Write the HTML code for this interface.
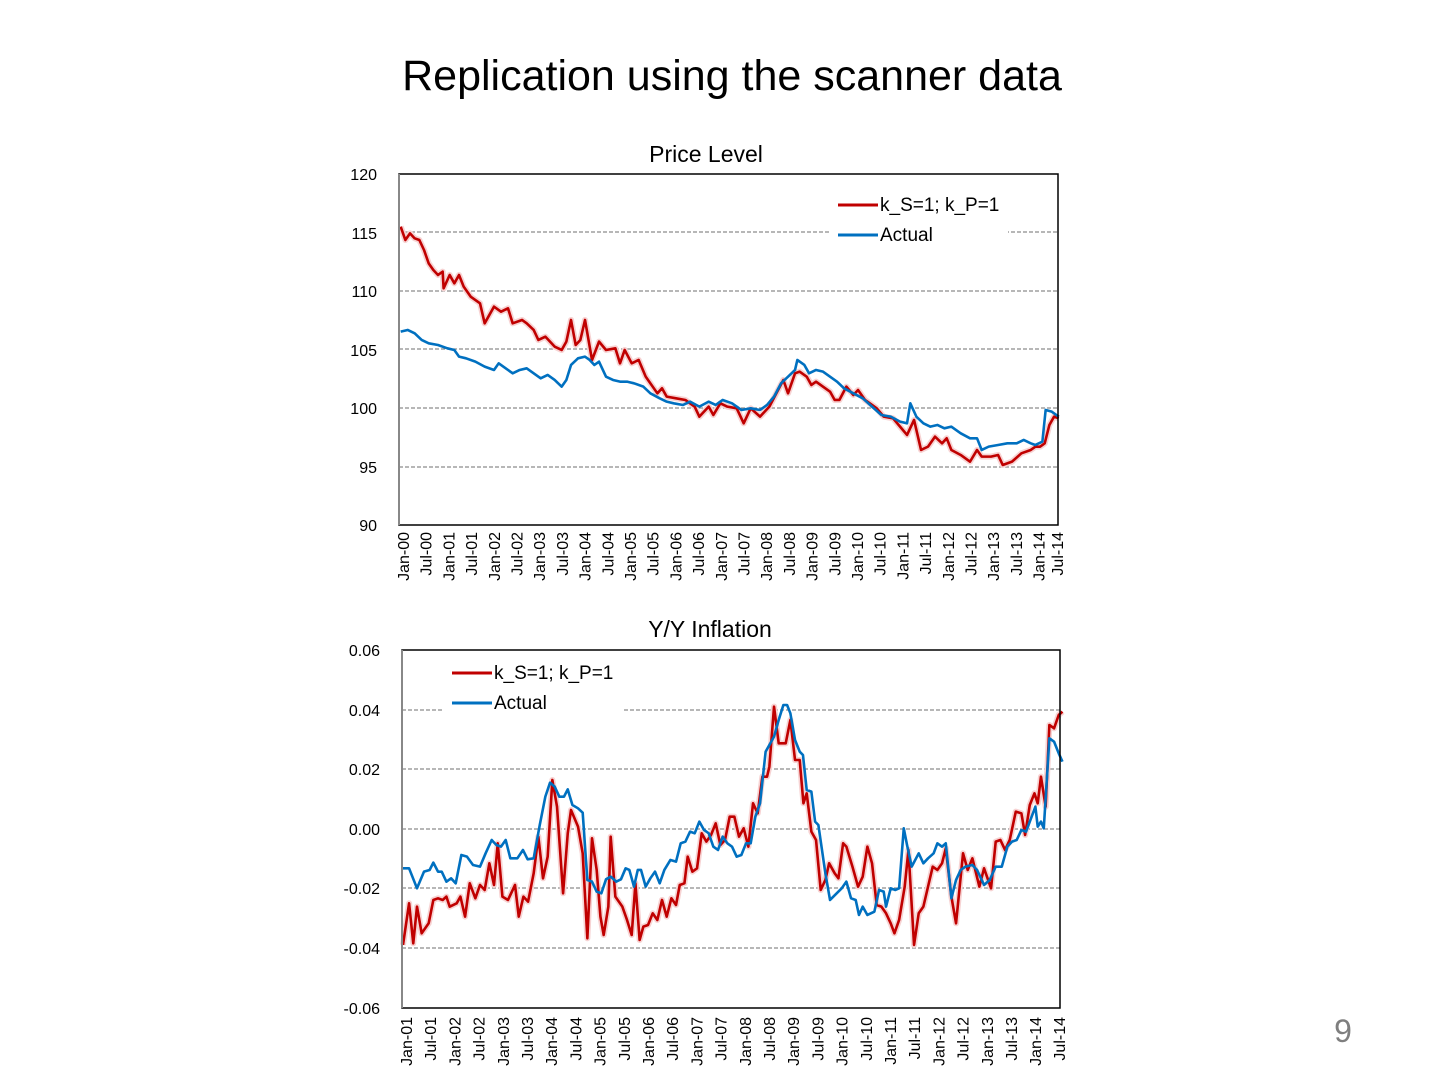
<!DOCTYPE html>
<html><head><meta charset="utf-8"><style>
html,body{margin:0;padding:0;background:#fff;}
svg{display:block;font-family:"Liberation Sans",sans-serif;}
</style></head><body>
<svg width="1440" height="1080" viewBox="0 0 1440 1080" xmlns="http://www.w3.org/2000/svg">
<text x="732" y="90" font-size="43" text-anchor="middle" fill="#000">Replication using the scanner data</text>
<text x="1343" y="1042" font-size="32" text-anchor="middle" fill="#7f7f7f">9</text>

<!-- TOP CHART -->
<text x="706" y="162" font-size="23" text-anchor="middle">Price Level</text>
<g stroke="#8c8c8c" stroke-width="1.2" stroke-dasharray="4,2">
<line x1="399" y1="232" x2="1058" y2="232"/><line x1="399" y1="291" x2="1058" y2="291"/>
<line x1="399" y1="349" x2="1058" y2="349"/><line x1="399" y1="408" x2="1058" y2="408"/>
<line x1="399" y1="467" x2="1058" y2="467"/>
</g>
<rect x="830" y="190" width="178" height="60" fill="#fff"/>
<g font-size="16" text-anchor="end">
<text x="377" y="180">120</text><text x="377" y="239">115</text><text x="377" y="297">110</text>
<text x="377" y="356">105</text><text x="377" y="414">100</text><text x="377" y="473">95</text><text x="377" y="531">90</text>
</g>
<g transform="translate(340,160) scale(0.4667,0.3333)" fill="none" stroke-linejoin="round">
<polyline vector-effect="non-scaling-stroke" stroke="#f7d3d3" stroke-width="6" points="130,200 140,240 150,220 160,235 170,240 180,270 190,310 200,330 210,345 220,335 222,385 235,345 245,370 255,345 265,380 280,410 300,430 310,490 330,440 345,455 360,445 370,490 390,480 400,490 415,510 425,540 440,530 460,560 475,570 485,545 495,480 505,555 515,540 525,480 540,600 555,545 570,570 590,565 600,610 610,570 625,610 640,600 655,650 680,700 690,685 700,710 720,715 740,720 760,740 770,770 790,740 800,765 815,730 830,740 850,745 865,790 880,745 900,770 920,740 935,700 950,660 960,700 975,640 985,635 1000,650 1010,675 1020,665 1035,680 1050,695 1060,720 1070,720 1085,680 1100,705 1110,690 1125,720 1140,735 1150,745 1165,770 1185,775 1200,800 1215,825 1230,780 1245,870 1260,860 1275,830 1290,850 1300,835 1310,870 1330,885 1350,905 1365,870 1375,890 1395,890 1410,885 1420,915 1440,905 1460,880 1480,870 1490,860 1500,860 1510,850 1520,795 1530,770 1540,775"/>
<polyline vector-effect="non-scaling-stroke" stroke="#c00000" stroke-width="2.6" points="130,200 140,240 150,220 160,235 170,240 180,270 190,310 200,330 210,345 220,335 222,385 235,345 245,370 255,345 265,380 280,410 300,430 310,490 330,440 345,455 360,445 370,490 390,480 400,490 415,510 425,540 440,530 460,560 475,570 485,545 495,480 505,555 515,540 525,480 540,600 555,545 570,570 590,565 600,610 610,570 625,610 640,600 655,650 680,700 690,685 700,710 720,715 740,720 760,740 770,770 790,740 800,765 815,730 830,740 850,745 865,790 880,745 900,770 920,740 935,700 950,660 960,700 975,640 985,635 1000,650 1010,675 1020,665 1035,680 1050,695 1060,720 1070,720 1085,680 1100,705 1110,690 1125,720 1140,735 1150,745 1165,770 1185,775 1200,800 1215,825 1230,780 1245,870 1260,860 1275,830 1290,850 1300,835 1310,870 1330,885 1350,905 1365,870 1375,890 1395,890 1410,885 1420,915 1440,905 1460,880 1480,870 1490,860 1500,860 1510,850 1520,795 1530,770 1540,775"/>
<polyline vector-effect="non-scaling-stroke" stroke="#0070c0" stroke-width="2.6" points="130,515 145,510 160,520 175,540 190,550 210,555 230,565 245,570 255,590 270,595 290,605 310,620 330,630 340,610 355,625 370,640 385,630 400,625 415,640 430,655 445,645 460,660 475,680 485,660 495,615 510,595 525,590 535,600 545,615 555,605 570,650 585,660 600,665 615,665 630,670 650,680 665,700 685,715 700,725 715,730 735,735 750,725 770,740 790,725 805,735 820,720 840,730 860,750 880,745 900,750 915,735 930,710 945,670 960,650 975,630 980,600 995,615 1005,640 1020,630 1035,635 1050,650 1065,665 1080,685 1100,700 1120,715 1140,740 1160,765 1180,770 1200,785 1215,790 1222,730 1235,770 1250,790 1265,800 1280,795 1295,805 1310,800 1330,820 1350,835 1365,835 1375,870 1390,860 1410,855 1430,850 1450,850 1465,840 1480,850 1490,855 1505,845 1512,750 1525,755 1540,770"/>
</g>
<rect x="399" y="174" width="659" height="351" fill="none" stroke="#000" stroke-width="1.5"/>
<line x1="399" y1="174" x2="399" y2="525" stroke="#888" stroke-width="2"/>
<line x1="838" y1="205" x2="878" y2="205" stroke="#c00000" stroke-width="3"/>
<line x1="838" y1="235" x2="878" y2="235" stroke="#0070c0" stroke-width="3"/>
<text x="880" y="211" font-size="19">k_S=1; k_P=1</text>
<text x="880" y="241" font-size="19">Actual</text>
<g font-size="16" text-anchor="end">
<text transform="translate(409,532) rotate(-90)">Jan-00</text><text transform="translate(431.7,532) rotate(-90)">Jul-00</text><text transform="translate(454.4,532) rotate(-90)">Jan-01</text><text transform="translate(477.1,532) rotate(-90)">Jul-01</text><text transform="translate(499.8,532) rotate(-90)">Jan-02</text><text transform="translate(522.5,532) rotate(-90)">Jul-02</text><text transform="translate(545.2,532) rotate(-90)">Jan-03</text><text transform="translate(567.9,532) rotate(-90)">Jul-03</text><text transform="translate(590.6,532) rotate(-90)">Jan-04</text><text transform="translate(613.3,532) rotate(-90)">Jul-04</text><text transform="translate(636,532) rotate(-90)">Jan-05</text><text transform="translate(658.7,532) rotate(-90)">Jul-05</text><text transform="translate(681.4,532) rotate(-90)">Jan-06</text><text transform="translate(704.1,532) rotate(-90)">Jul-06</text><text transform="translate(726.8,532) rotate(-90)">Jan-07</text><text transform="translate(749.5,532) rotate(-90)">Jul-07</text><text transform="translate(772.2,532) rotate(-90)">Jan-08</text><text transform="translate(794.9,532) rotate(-90)">Jul-08</text><text transform="translate(817.6,532) rotate(-90)">Jan-09</text><text transform="translate(840.3,532) rotate(-90)">Jul-09</text><text transform="translate(863,532) rotate(-90)">Jan-10</text><text transform="translate(885.7,532) rotate(-90)">Jul-10</text><text transform="translate(908.4,532) rotate(-90)">Jan-11</text><text transform="translate(931.1,532) rotate(-90)">Jul-11</text><text transform="translate(953.8,532) rotate(-90)">Jan-12</text><text transform="translate(976.5,532) rotate(-90)">Jul-12</text><text transform="translate(999.2,532) rotate(-90)">Jan-13</text><text transform="translate(1021.9,532) rotate(-90)">Jul-13</text><text transform="translate(1044.6,532) rotate(-90)">Jan-14</text><text transform="translate(1063,532) rotate(-90)">Jul-14</text>
</g>

<!-- BOTTOM CHART -->
<text x="710" y="637" font-size="23" text-anchor="middle">Y/Y Inflation</text>
<g stroke="#8c8c8c" stroke-width="1.2" stroke-dasharray="4,2">
<line x1="402" y1="710" x2="1060" y2="710"/><line x1="402" y1="769" x2="1060" y2="769"/>
<line x1="402" y1="829" x2="1060" y2="829"/><line x1="402" y1="888" x2="1060" y2="888"/>
<line x1="402" y1="948" x2="1060" y2="948"/>
</g>
<rect x="442" y="660" width="180" height="60" fill="#fff"/>
<g font-size="16" text-anchor="end">
<text x="380" y="656">0.06</text><text x="380" y="716">0.04</text><text x="380" y="775">0.02</text>
<text x="380" y="835">0.00</text><text x="380" y="894">-0.02</text><text x="380" y="954">-0.04</text><text x="380" y="1014">-0.06</text>
</g>
<g transform="translate(340,640) scale(0.4667,0.3333)" fill="none" stroke-linejoin="round">
<polyline vector-effect="non-scaling-stroke" stroke="#f7d3d3" stroke-width="6" points="135,915 148,790 157,910 165,800 175,880 190,850 200,780 210,775 220,780 228,770 235,800 250,790 258,770 268,830 278,730 290,775 300,735 310,750 320,670 330,735 338,610 348,770 360,780 375,735 383,830 393,770 403,785 415,700 425,590 435,715 445,650 455,420 465,500 478,760 488,580 495,510 510,560 520,640 530,895 540,595 550,690 558,830 565,885 575,800 580,590 590,770 605,800 615,840 625,885 633,730 642,900 650,860 660,855 670,820 680,840 690,780 700,830 710,775 720,795 728,735 738,730 745,650 755,695 765,685 775,580 785,605 795,585 805,550 815,615 825,600 835,530 845,530 855,590 865,565 875,620 885,490 895,520 905,410 915,410 920,380 930,200 940,310 955,310 965,240 975,360 985,360 993,490 1000,460 1010,575 1020,600 1030,750 1040,720 1048,670 1060,700 1068,715 1078,610 1085,620 1098,680 1110,740 1120,710 1130,620 1140,670 1150,795 1160,800 1170,820 1180,850 1188,880 1198,840 1210,740 1218,630 1230,915 1240,820 1250,800 1260,740 1270,680 1280,690 1290,670 1298,625 1310,770 1320,850 1335,640 1345,690 1355,655 1370,740 1380,685 1395,745 1405,605 1415,600 1425,630 1435,600 1448,515 1460,520 1468,585 1478,495 1488,460 1495,490 1502,410 1512,500 1520,255 1530,265 1540,225 1548,215"/>
<polyline vector-effect="non-scaling-stroke" stroke="#c00000" stroke-width="2.6" points="135,915 148,790 157,910 165,800 175,880 190,850 200,780 210,775 220,780 228,770 235,800 250,790 258,770 268,830 278,730 290,775 300,735 310,750 320,670 330,735 338,610 348,770 360,780 375,735 383,830 393,770 403,785 415,700 425,590 435,715 445,650 455,420 465,500 478,760 488,580 495,510 510,560 520,640 530,895 540,595 550,690 558,830 565,885 575,800 580,590 590,770 605,800 615,840 625,885 633,730 642,900 650,860 660,855 670,820 680,840 690,780 700,830 710,775 720,795 728,735 738,730 745,650 755,695 765,685 775,580 785,605 795,585 805,550 815,615 825,600 835,530 845,530 855,590 865,565 875,620 885,490 895,520 905,410 915,410 920,380 930,200 940,310 955,310 965,240 975,360 985,360 993,490 1000,460 1010,575 1020,600 1030,750 1040,720 1048,670 1060,700 1068,715 1078,610 1085,620 1098,680 1110,740 1120,710 1130,620 1140,670 1150,795 1160,800 1170,820 1180,850 1188,880 1198,840 1210,740 1218,630 1230,915 1240,820 1250,800 1260,740 1270,680 1280,690 1290,670 1298,625 1310,770 1320,850 1335,640 1345,690 1355,655 1370,740 1380,685 1395,745 1405,605 1415,600 1425,630 1435,600 1448,515 1460,520 1468,585 1478,495 1488,460 1495,490 1502,410 1512,500 1520,255 1530,265 1540,225 1548,215"/>
<polyline vector-effect="non-scaling-stroke" stroke="#0070c0" stroke-width="2.6" points="135,685 148,685 165,745 180,695 192,690 200,668 210,695 218,695 228,725 238,715 248,730 260,645 272,650 285,675 300,680 312,640 325,600 335,615 345,620 355,600 365,655 380,655 392,630 402,658 415,655 428,555 440,470 450,428 460,440 470,470 480,470 488,448 498,495 510,505 520,518 530,720 540,725 550,755 560,760 570,718 580,710 592,725 602,718 612,685 620,690 630,740 638,690 645,690 655,740 665,715 675,695 685,730 695,690 708,660 720,665 730,610 740,605 750,575 760,580 770,545 780,570 790,580 800,620 810,630 820,590 830,610 840,620 850,650 860,645 870,610 880,610 890,530 900,490 912,335 920,315 930,290 940,240 950,195 958,195 965,220 975,300 985,335 992,345 1000,450 1010,455 1018,545 1025,555 1040,700 1050,780 1075,745 1085,725 1095,775 1105,780 1112,825 1120,800 1130,825 1145,815 1155,750 1165,755 1170,800 1180,745 1190,750 1198,745 1208,565 1215,615 1225,680 1240,640 1250,670 1260,655 1272,640 1280,610 1290,620 1298,610 1310,775 1320,720 1330,690 1340,680 1355,675 1365,690 1380,735 1392,720 1405,680 1418,680 1430,620 1440,605 1450,600 1460,570 1470,575 1482,530 1490,500 1495,560 1502,545 1508,565 1520,295 1530,305 1540,340 1548,365"/>
</g>
<rect x="402" y="650" width="658" height="358" fill="none" stroke="#000" stroke-width="1.5"/>
<line x1="402" y1="650" x2="402" y2="1008" stroke="#888" stroke-width="2"/>
<line x1="452" y1="673" x2="492" y2="673" stroke="#c00000" stroke-width="3"/>
<line x1="452" y1="703" x2="492" y2="703" stroke="#0070c0" stroke-width="3"/>
<text x="494" y="679" font-size="19">k_S=1; k_P=1</text>
<text x="494" y="709" font-size="19">Actual</text>
<g font-size="16" text-anchor="end">
<text transform="translate(412,1017) rotate(-90)">Jan-01</text><text transform="translate(436.2,1017) rotate(-90)">Jul-01</text><text transform="translate(460.4,1017) rotate(-90)">Jan-02</text><text transform="translate(484.6,1017) rotate(-90)">Jul-02</text><text transform="translate(508.8,1017) rotate(-90)">Jan-03</text><text transform="translate(533,1017) rotate(-90)">Jul-03</text><text transform="translate(557.2,1017) rotate(-90)">Jan-04</text><text transform="translate(581.4,1017) rotate(-90)">Jul-04</text><text transform="translate(605.6,1017) rotate(-90)">Jan-05</text><text transform="translate(629.8,1017) rotate(-90)">Jul-05</text><text transform="translate(654,1017) rotate(-90)">Jan-06</text><text transform="translate(678.2,1017) rotate(-90)">Jul-06</text><text transform="translate(702.4,1017) rotate(-90)">Jan-07</text><text transform="translate(726.6,1017) rotate(-90)">Jul-07</text><text transform="translate(750.8,1017) rotate(-90)">Jan-08</text><text transform="translate(775,1017) rotate(-90)">Jul-08</text><text transform="translate(799.2,1017) rotate(-90)">Jan-09</text><text transform="translate(823.4,1017) rotate(-90)">Jul-09</text><text transform="translate(847.6,1017) rotate(-90)">Jan-10</text><text transform="translate(871.8,1017) rotate(-90)">Jul-10</text><text transform="translate(896,1017) rotate(-90)">Jan-11</text><text transform="translate(920.2,1017) rotate(-90)">Jul-11</text><text transform="translate(944.4,1017) rotate(-90)">Jan-12</text><text transform="translate(968.6,1017) rotate(-90)">Jul-12</text><text transform="translate(992.8,1017) rotate(-90)">Jan-13</text><text transform="translate(1017,1017) rotate(-90)">Jul-13</text><text transform="translate(1041.2,1017) rotate(-90)">Jan-14</text><text transform="translate(1065,1017) rotate(-90)">Jul-14</text>
</g>
</svg>
</body></html>
